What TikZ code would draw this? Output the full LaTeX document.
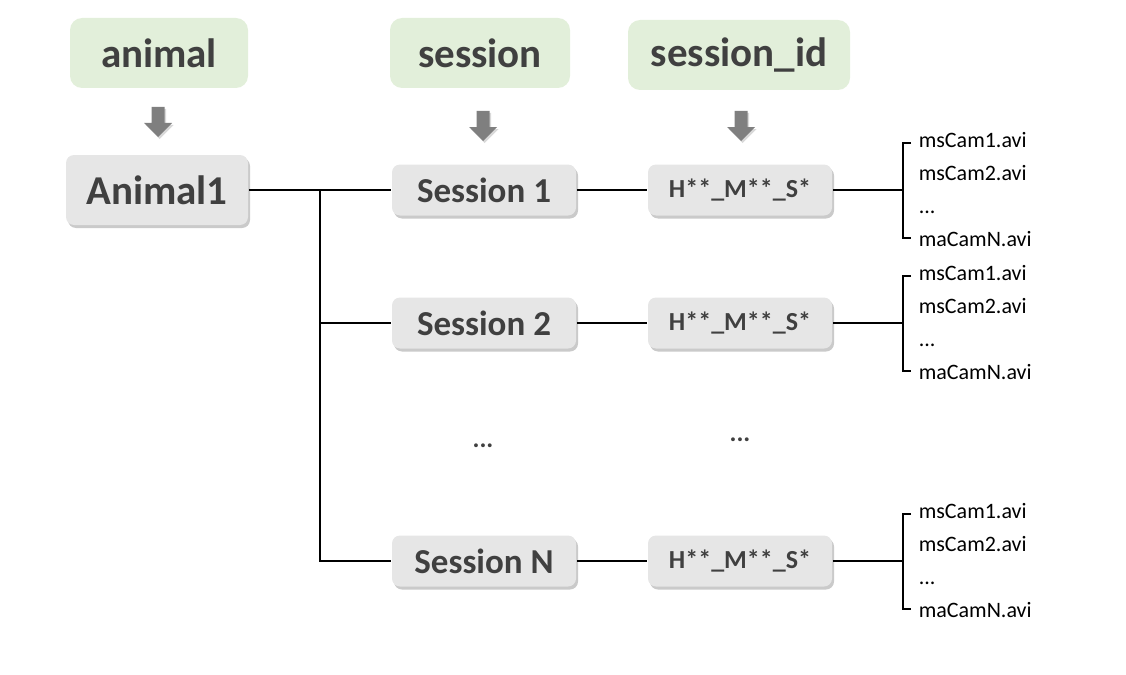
\documentclass[tikz,border=0pt]{standalone}
\usepackage{fontspec}
\setmainfont{Carlito}
\usetikzlibrary{shadows}

\definecolor{taggreen}{HTML}{E2EFDA}
\definecolor{boxgrey}{HTML}{E6E6E6}
\definecolor{textgrey}{HTML}{404040}
\definecolor{arrowgrey}{HTML}{7F7F7F}

\tikzset{
  tag/.style={fill=taggreen, rounded corners=12pt, minimum height=70pt, text=textgrey,
    font=\bfseries\fontsize{41}{48}\selectfont},
  folder/.style={fill=boxgrey, rounded corners=8pt, text=textgrey,
    drop shadow={shadow xshift=2pt, shadow yshift=-3pt, opacity=0.35, fill=black!60}},
  session/.style={folder, minimum width=184pt, minimum height=51pt,
    font=\bfseries\fontsize{35}{40}\selectfont},
  stamp/.style={folder, minimum width=184pt, minimum height=51pt,
    font=\bfseries\fontsize{26}{30}\selectfont},
  files/.style={anchor=west, align=left, inner sep=0pt,
    font=\fontsize{22}{33}\selectfont},
  gap/.style={text=textgrey, font=\bfseries\fontsize{26}{30}\selectfont},
  pics/down/.style={code={
    \fill[arrowgrey, drop shadow={shadow xshift=1.5pt, shadow yshift=-2pt, opacity=0.3}]
      (-6.5,0) -- (6.5,0) -- (6.5,16) -- (14,16) -- (0,30) -- (-14,16) -- (-6.5,16) -- cycle;
  }}
}

\begin{document}
\begin{tikzpicture}[x=1pt, y=-1pt, line width=1.6pt]
    \useasboundingbox (0,0) rectangle (1126,674);

    % level labels
    \node[tag, minimum width=178pt] (tanimal) at (159,53) {animal};
    \node[tag, minimum width=180pt] (tsession) at (480,53) {session};
    \node[tag, minimum width=222pt] (tid) at (739,55) {session\_id};

    \pic at (158,107) {down};
    \pic at (483,111) {down};
    \pic at (741,111) {down};

    % tree
    \node[folder, minimum width=182pt, minimum height=70pt,
      font=\bfseries\fontsize{41}{48}\selectfont] (animal1) at (157,190) {Animal1};
    \coordinate (trunk) at (320,190);

    \foreach \n/\y in {1/190, 2/323, N/561} {
      \node[session] (s\n) at (484,\y) {Session \n};
      \node[stamp] (h\n) at (740,\y) {H**\_M**\_S*};
      \node[files] (f\n) at (918,\y) {msCam1.avi\\msCam2.avi\\...\\maCamN.avi};
      \coordinate (b\n) at (903,\y);
      \draw (s\n) -- (h\n);
      \draw (h\n) -- (b\n);
      \draw ([shift={(8,-47)}]b\n) -| (b\n) |- ([shift={(8,48)}]b\n);
    }

    \draw (animal1) -- (s1);
    \draw (trunk) |- (s2);
    \draw (trunk) |- (sN);

    \node[gap] (gs) at (483,446) {...};
    \node[gap] (gh) at (740,440) {...};

  \end{tikzpicture}
\end{document}
